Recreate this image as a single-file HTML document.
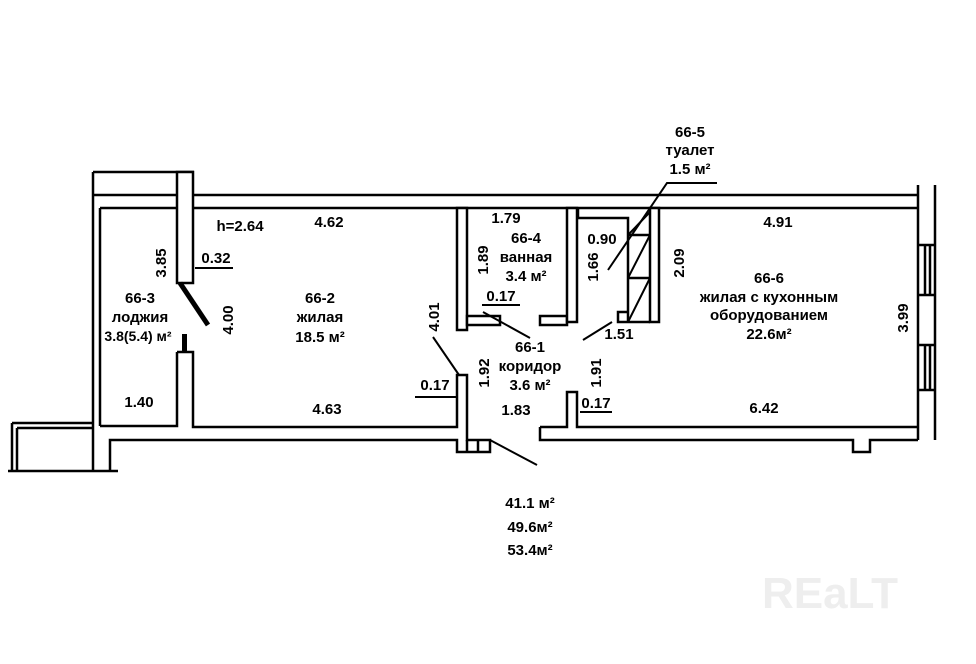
<!DOCTYPE html><html><head><style>body{margin:0;background:#fff}svg{display:block}text{font-family:"Liberation Sans","DejaVu Sans",sans-serif;font-size:15px;font-weight:bold;fill:#000;text-anchor:middle}</style></head><body>
<svg width="976" height="664" viewBox="0 0 976 664">
<g fill="#fff" stroke="#000" stroke-width="2.5">
<path d="M93 172H194M93 172V470M100 208V426M93 195H918M100 208H918" fill="none"/>
<rect x="177" y="172" width="16" height="111"/>
<path d="M177 352H193V427H457V375H467V440H490V452H457V440H110V470M100 426H177V352" fill="none"/>
<path d="M12 423H93M17 428H93M12 423V470M17 428V470M8 471H118" fill="none"/>
<path d="M467 452V440M478 452V440" fill="none"/>
<path d="M540 427V440H853V452H870V440H918M540 427H567V392H577V427H918" fill="none"/>
<path d="M918 185V440M935 185V440M925 245V295M930 245V295M918 245H935M918 295H935M925 345V390M930 345V390M918 345H935M918 390H935" fill="none"/>
<rect x="457" y="208" width="10" height="122"/>
<rect x="467" y="316" width="33" height="9"/>
<rect x="540" y="316" width="27" height="9"/>
<rect x="567" y="208" width="10" height="114"/>
<rect x="650" y="208" width="9" height="114"/>
<path d="M578 208V218H628V322H650M628 235H650M628 278H650M628 312H618V322H628" fill="none"/>
</g>
<g stroke="#000" stroke-width="2" fill="none">
<path d="M628 235L650 212M628 278L650 235M628 322L650 278"/>
<path d="M717 183H667L608 270"/>
<path d="M483 312L530 338M583 340L612 322M433 337L459 375M490 440L537 465"/>
<path d="M195 268H233M482 305H520M415 397H457M580 412H612"/>
</g>
<path d="M180 283L208 325" stroke="#000" stroke-width="5"/>
<rect x="182" y="334" width="5" height="18" fill="#000"/>
<text x="240" y="231">h=2.64</text><text x="329" y="227">4.62</text>
<text x="216" y="263">0.32</text>
<text x="140" y="303">66-3</text><text x="140" y="322">лоджия</text><text x="138" y="341" style="font-size:14px">3.8(5.4) м²</text>
<text x="320" y="303">66-2</text><text x="320" y="322">жилая</text><text x="320" y="342">18.5 м²</text>
<text x="139" y="407">1.40</text><text x="327" y="414">4.63</text>
<text x="435" y="390">0.17</text>
<text x="506" y="223">1.79</text><text x="526" y="243">66-4</text><text x="526" y="262">ванная</text><text x="526" y="281">3.4 м²</text>
<text x="501" y="301">0.17</text>
<text x="602" y="244">0.90</text>
<text x="690" y="137">66-5</text><text x="690" y="155">туалет</text><text x="690" y="174">1.5 м²</text>
<text x="778" y="227">4.91</text>
<text x="769" y="283">66-6</text><text x="769" y="302">жилая с кухонным</text><text x="769" y="320">оборудованием</text><text x="769" y="339">22.6м²</text>
<text x="619" y="339">1.51</text>
<text x="530" y="352">66-1</text><text x="530" y="371">коридор</text><text x="530" y="390">3.6 м²</text>
<text x="516" y="415">1.83</text><text x="596" y="408">0.17</text><text x="764" y="413">6.42</text>
<text x="530" y="508">41.1 м²</text><text x="530" y="532">49.6м²</text><text x="530" y="555">53.4м²</text>
<g>
<text transform="translate(166,263) rotate(-90)">3.85</text>
<text transform="translate(233,320) rotate(-90)">4.00</text>
<text transform="translate(439,317) rotate(-90)">4.01</text>
<text transform="translate(488,260) rotate(-90)">1.89</text>
<text transform="translate(598,267) rotate(-90)">1.66</text>
<text transform="translate(684,263) rotate(-90)">2.09</text>
<text transform="translate(489,373) rotate(-90)">1.92</text>
<text transform="translate(601,373) rotate(-90)">1.91</text>
<text transform="translate(908,318) rotate(-90)">3.99</text>
</g>
<text x="830" y="608" style="font-size:44px;fill:#eee;font-weight:bold">REaLT</text>
</svg></body></html>
